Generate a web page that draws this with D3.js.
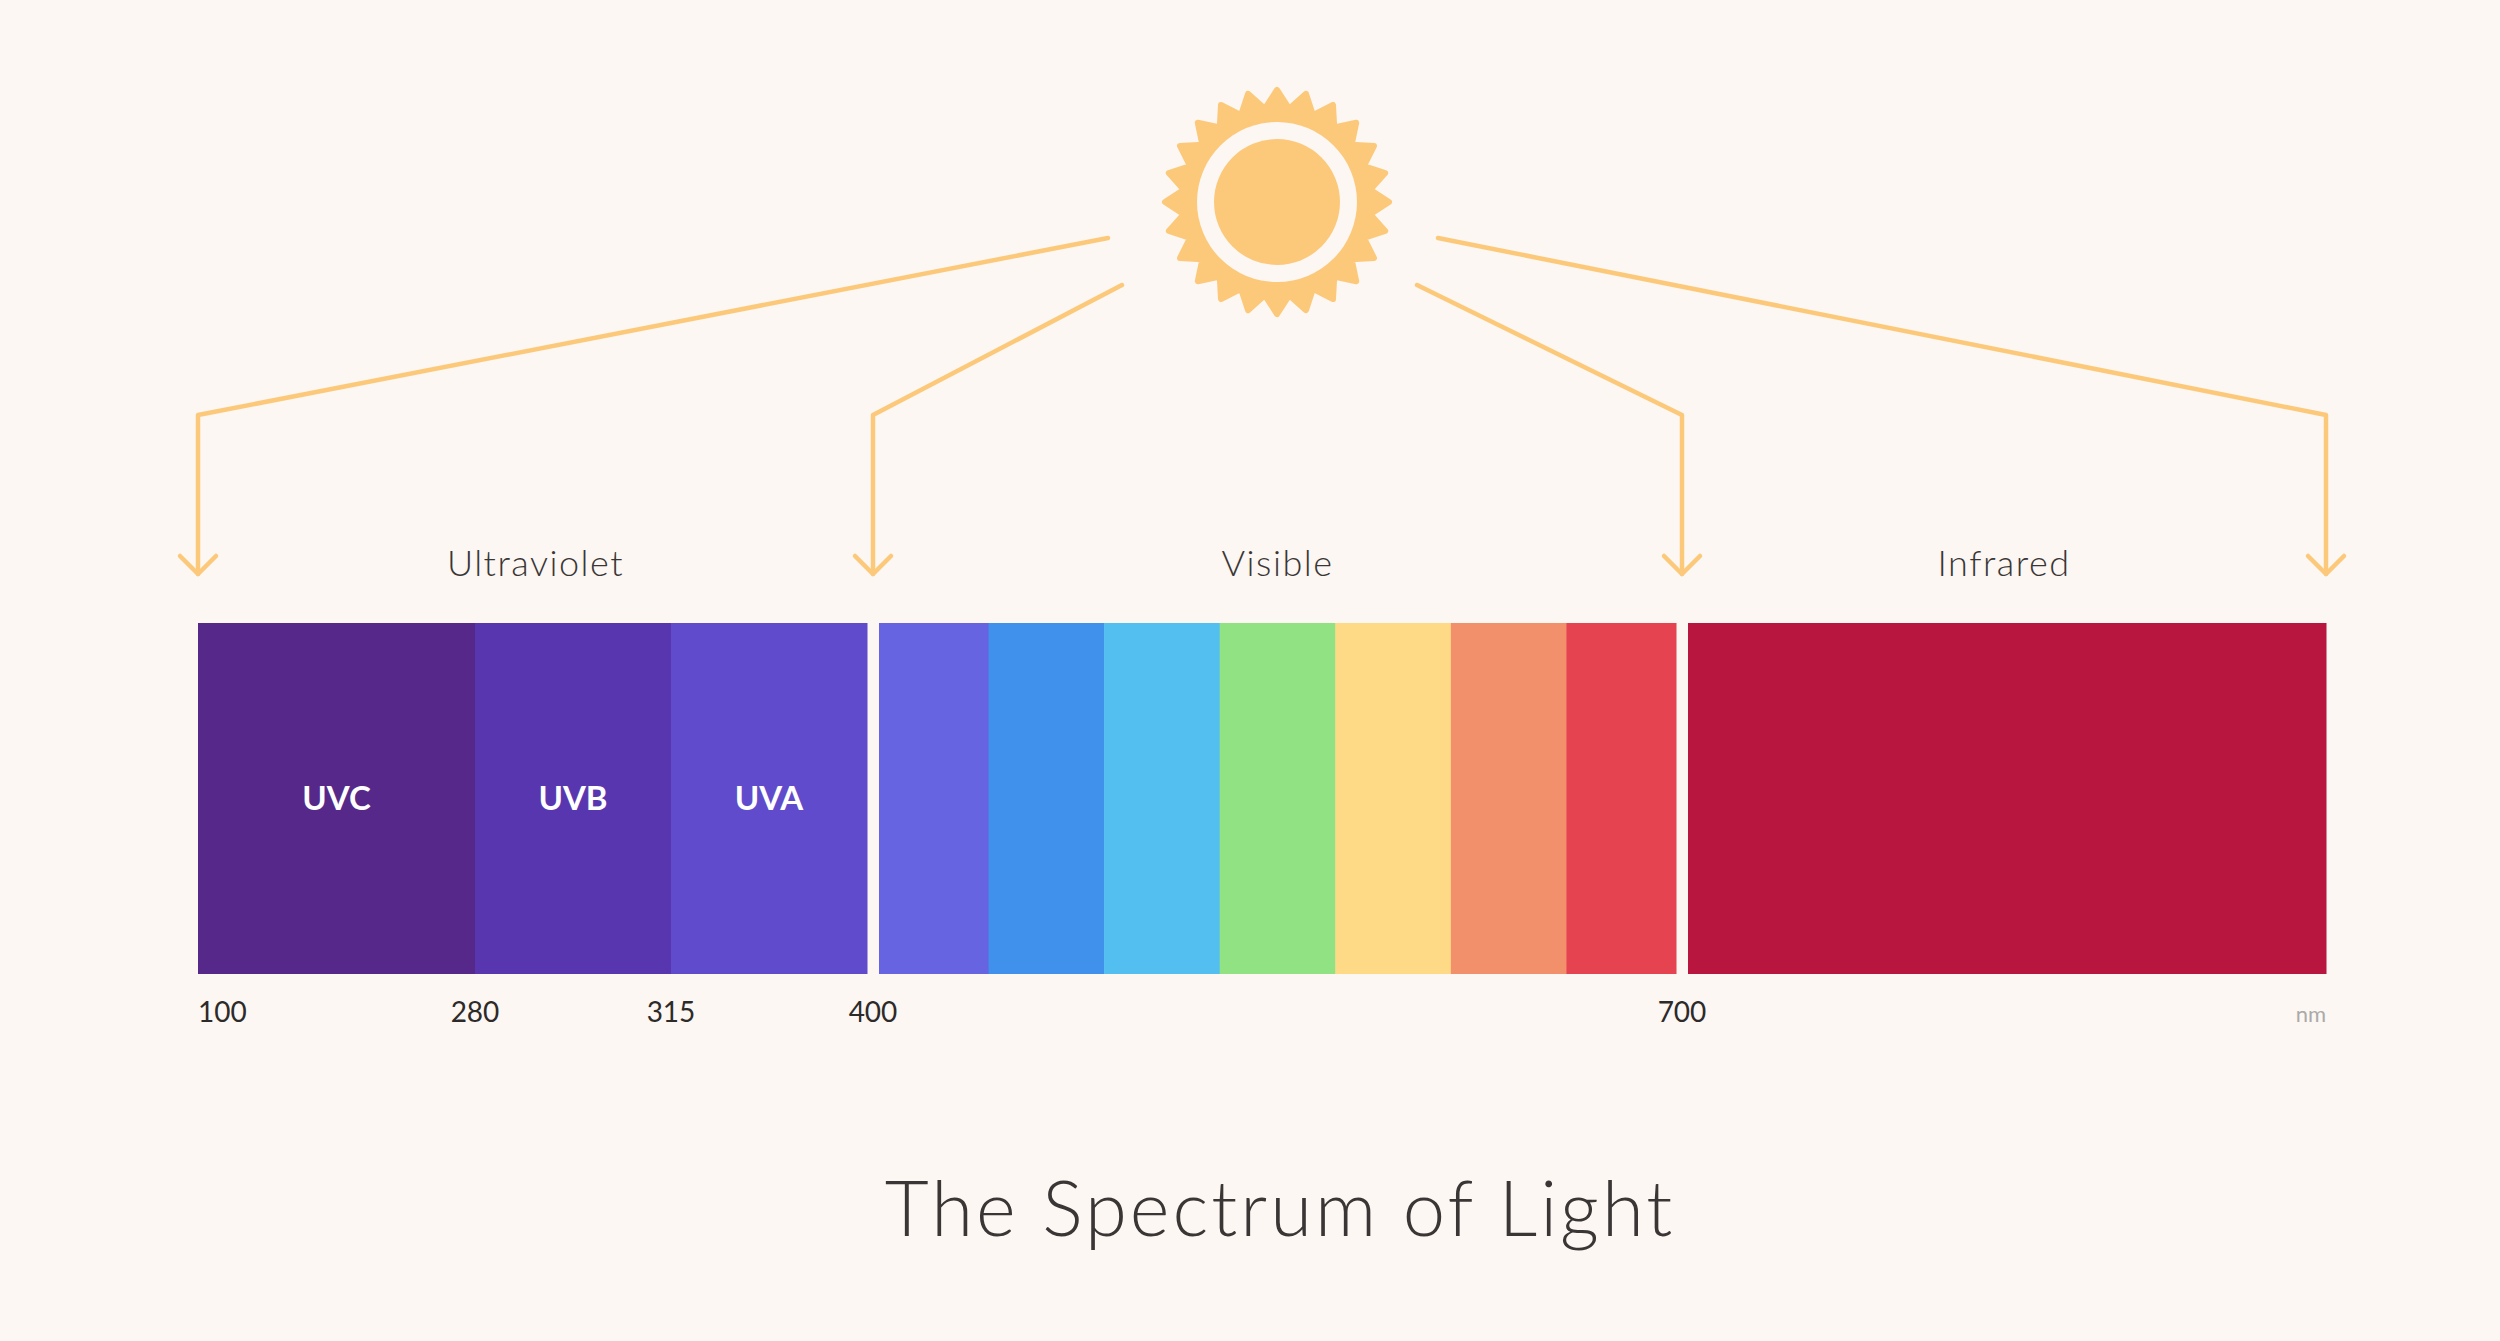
<!DOCTYPE html>
<html><head><meta charset="utf-8">
<script src="https://cdn.jsdelivr.net/npm/d3@7"></script>
<style>body{margin:0;background:#fcf7f2}</style>
</head><body><div id="chart"></div>
<script>
// Data
const bandTicks = [100, 280, 315, 400, 700];
const uvBands = [
  {name: 'UVC', from: 100, to: 280, color: '#55288a'},
  {name: 'UVB', from: 280, to: 315, color: '#5836b0'},
  {name: 'UVA', from: 315, to: 400, color: '#5f4bcb'}
];
const visibleColors = ['#6764e2', '#3f91ec', '#53bff1', '#91e283', '#ffda86', '#f2906b', '#e5434f'];
const infrared = {from: 700, to: 1100, color: '#b8163e'};
const regions = [
  {name: 'Ultraviolet', from: 100, to: 400},
  {name: 'Visible', from: 400, to: 700},
  {name: 'Infrared', from: 700, to: 1100}
];

const W = 2500, H = 1341;
const svg = d3.select('#chart').append('svg').attr('width', W).attr('height', H);
svg.append('rect').attr('width', W).attr('height', H).attr('fill', '#fcf7f2');

const x = d3.scaleLinear()
    .domain([100, 280, 315, 400, 700, 1100])
    .range([198, 475, 671, 873, 1682, 2326]);
const barTop = 623, barBot = 974, gap = 6;
const sunColor = '#fcc97a';

// segments
const visStep = (700 - 400) / visibleColors.length;
const segs = [
  ...uvBands.map((d, i) => ({...d, x0: x(d.from), x1: x(d.to) - (i === 2 ? gap : 0)})),
  ...visibleColors.map((c, i) => ({color: c,
    x0: x(400 + i * visStep) + (i === 0 ? gap : 0),
    x1: x(400 + (i + 1) * visStep) - (i === 6 ? gap : 0)})),
  {...infrared, x0: x(infrared.from) + gap, x1: x(infrared.to)}
];
svg.append('g').selectAll('rect').data(segs).join('rect')
    .attr('x', d => d.x0).attr('y', barTop)
    .attr('width', d => d.x1 - d.x0 + 0.5).attr('height', barBot - barTop)
    .attr('fill', d => d.color);

svg.append('g').selectAll('text').data(uvBands).join('text')
    .attr('x', d => (x(d.from) + x(d.to)) / 2 - (d.name === 'UVA' ? 3 : 0))
    .attr('y', (barTop + barBot) / 2 + 11)
    .attr('text-anchor', 'middle').attr('fill', '#fff')
    .attr('font-family', 'Lato').attr('font-weight', 700).attr('font-size', 33)
    .text(d => d.name);

// ticks
svg.append('g').selectAll('text').data(bandTicks).join('text')
    .attr('x', d => x(d)).attr('y', 1022)
    .attr('text-anchor', (d, i) => i === 0 ? 'start' : 'middle')
    .attr('font-family', 'Lato').attr('font-size', 28).attr('fill', '#2d2a2a')
    .text(d => d);
svg.append('text').attr('x', x(1100)).attr('y', 1022).attr('text-anchor', 'end')
    .attr('font-family', 'Lato').attr('font-size', 22).attr('fill', '#aaa').text('nm');

// region labels
svg.append('g').selectAll('text').data(regions).join('text')
    .attr('x', d => (x(d.from) + x(d.to)) / 2).attr('y', 576)
    .attr('text-anchor', 'middle').attr('font-family', 'Lato').attr('font-weight', 300)
    .attr('font-size', 36).attr('letter-spacing', 1.5).attr('fill', '#3a3636')
    .text(d => d.name);

// arrows from sun to region edges
const sun = {x: 1277, y: 202};
const arrowTargets = [100, 400, 700, 1100];
const starts = [[-169, 36], [-155, 83], [140, 83], [161, 36]];
const elbowY = 415, tipY = 574;
const ag = svg.append('g').attr('fill', 'none').attr('stroke', sunColor)
    .attr('stroke-width', 4.5).attr('stroke-linecap', 'round').attr('stroke-linejoin', 'round');
arrowTargets.forEach((t, i) => {
  const tx = x(t);
  ag.append('path').attr('d', d3.line()([
    [sun.x + starts[i][0], sun.y + starts[i][1]], [tx, elbowY], [tx, tipY]]));
  ag.append('path').attr('d', d3.line()([[tx - 18, tipY - 18], [tx, tipY], [tx + 18, tipY - 18]]));
});

// sun
const nRays = 24, rOut = 112, rIn = 94;
const pts = d3.range(nRays * 2).map(i => {
  const a = i * Math.PI / nRays - Math.PI / 2;
  const r = i % 2 === 0 ? rOut : rIn;
  return [sun.x + r * Math.cos(a), sun.y + r * Math.sin(a)];
});
svg.append('path').attr('d', d3.line().curve(d3.curveLinearClosed)(pts))
    .attr('fill', sunColor).attr('stroke', sunColor).attr('stroke-width', 6).attr('stroke-linejoin', 'round');
svg.append('circle').attr('cx', sun.x).attr('cy', sun.y).attr('r', 80).attr('fill', '#fcf7f2');
svg.append('circle').attr('cx', sun.x).attr('cy', sun.y).attr('r', 63).attr('fill', sunColor);

// title
svg.append('text').attr('x', 1280).attr('y', 1236).attr('text-anchor', 'middle')
    .attr('font-family', 'Lato').attr('font-weight', 300).attr('font-size', 76)
    .attr('letter-spacing', 3).attr('fill', '#3a3636').text('The Spectrum of Light');
</script></body></html>
